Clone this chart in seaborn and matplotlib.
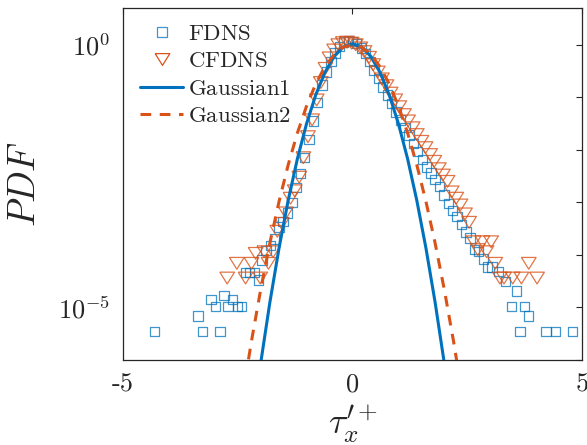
import numpy as np
import pandas as pd
import seaborn as sns
import matplotlib.pyplot as plt
from matplotlib.lines import Line2D

# FDNS pdf (squares)
fdns_x = [-4.31, -3.37, -3.27, -3.08, -2.98, -2.89, -2.80, -2.71, -2.61, -2.51,
          -2.42, -2.33, -2.24, -2.14, -2.05, -1.97, -1.88, -1.79, -1.70, -1.60,
          -1.51, -1.42, -1.32, -1.23, -1.13, -1.04, -0.95, -0.85, -0.76, -0.66,
          -0.57, -0.47, -0.38, -0.28, -0.19, -0.09, 0.00, 0.09, 0.19, 0.28,
          0.38, 0.47, 0.57, 0.66, 0.76, 0.85, 0.95, 1.04, 1.14, 1.23,
          1.33, 1.42, 1.52, 1.61, 1.71, 1.80, 1.90, 1.99, 2.09, 2.18,
          2.28, 2.37, 2.47, 2.56, 2.66, 2.75, 2.85, 2.94, 3.04, 3.18,
          3.33, 3.46, 3.57, 3.65, 3.75, 3.84, 4.22, 4.42, 4.79]
fdns_pdf = [3.47e-6, 6.92e-6, 3.47e-6, 1.41e-5, 1.05e-5, 3.47e-6, 1.70e-5, 1.05e-5, 1.41e-5, 1.05e-5,
            1.05e-5, 4.68e-5, 4.68e-5, 4.68e-5, 3.31e-5, 7.94e-5, 1.20e-4, 1.51e-4, 2.00e-4, 3.39e-4,
            4.37e-4, 6.31e-4, 1.00e-3, 1.91e-3, 3.55e-3, 7.08e-3, 0.0158, 0.0355, 0.0794, 0.170,
            0.302, 0.479, 0.692, 0.933, 1.122, 1.202, 1.148, 1.047, 0.871, 0.676,
            0.479, 0.331, 0.229, 0.158, 0.110, 0.0759, 0.0525, 0.0372, 0.0263, 0.0191,
            0.0132, 9.33e-3, 6.61e-3, 4.68e-3, 3.63e-3, 2.75e-3, 2.00e-3, 1.38e-3, 9.55e-4, 7.08e-4,
            5.37e-4, 3.80e-4, 2.75e-4, 2.09e-4, 1.26e-4, 1.15e-4, 8.32e-5, 5.89e-5, 5.89e-5, 4.79e-5,
            3.09e-5, 1.05e-5, 2.04e-5, 3.47e-6, 1.05e-5, 6.92e-6, 3.47e-6, 3.47e-6, 3.47e-6]

# CFDNS pdf (triangles)
cfdns_x = [-2.73, -2.52, -2.33, -2.20, -2.11, -2.01, -1.92, -1.83, -1.73, -1.64,
           -1.54, -1.45, -1.35, -1.26, -1.16, -1.07, -0.97, -0.88, -0.78, -0.69,
           -0.59, -0.50, -0.40, -0.31, -0.21, -0.12, -0.02, 0.07, 0.17, 0.26,
           0.36, 0.45, 0.55, 0.64, 0.74, 0.83, 0.93, 1.02, 1.12, 1.21,
           1.31, 1.40, 1.50, 1.59, 1.69, 1.78, 1.88, 1.97, 2.07, 2.16,
           2.26, 2.35, 2.45, 2.54, 2.64, 2.73, 2.83, 2.92, 3.02, 3.11,
           3.21, 3.30, 3.49, 3.68, 3.84, 4.02]
cfdns_pdf = [3.63e-5, 6.92e-5, 3.63e-5, 6.92e-5, 1.07e-4, 3.63e-5, 1.15e-4, 6.92e-5, 1.15e-4, 2.82e-4,
             3.98e-4, 6.31e-4, 1.20e-3, 1.66e-3, 3.02e-3, 7.08e-3, 0.0178, 0.0372, 0.0891, 0.191,
             0.355, 0.562, 0.794, 1.000, 1.096, 1.122, 1.072, 1.000, 0.871, 0.741,
             0.575, 0.417, 0.302, 0.224, 0.166, 0.120, 0.0891, 0.0661, 0.0468, 0.0355,
             0.0263, 0.0195, 0.0145, 0.0110, 8.13e-3, 6.03e-3, 4.37e-3, 3.31e-3, 2.51e-3, 1.58e-3,
             1.20e-3, 8.91e-4, 6.03e-4, 4.17e-4, 1.78e-4, 1.26e-4, 1.78e-4, 1.15e-4, 1.78e-4, 6.92e-5,
             3.63e-5, 3.63e-5, 3.63e-5, 3.63e-5, 6.92e-5, 3.63e-5]

# Gaussian fits
gauss_x = [-2.4, -2.2, -2.0, -1.8, -1.6, -1.4, -1.2, -1.0, -0.8, -0.6, -0.4, -0.2, 0.0,
           0.2, 0.4, 0.6, 0.8, 1.0, 1.2, 1.4, 1.6, 1.8, 2.0, 2.2, 2.4]
gauss1_pdf = [2.0e-9, 4.6e-8, 8.7e-7, 1.25e-5, 1.35e-4, 1.10e-3, 6.78e-3, 0.0316, 0.1114, 0.297, 0.598, 0.910, 1.047,
              0.910, 0.598, 0.297, 0.1114, 0.0316, 6.78e-3, 1.10e-3, 1.35e-4, 1.25e-5, 8.7e-7, 4.6e-8, 2.0e-9]
gauss2_pdf = [1.95e-7, 2.30e-6, 2.19e-5, 1.68e-4, 1.04e-3, 5.21e-3, 0.0210, 0.0684, 0.180, 0.381, 0.651, 0.898, 1.0,
              0.898, 0.651, 0.381, 0.180, 0.0684, 0.0210, 5.21e-3, 1.04e-3, 1.68e-4, 2.19e-5, 2.30e-6, 1.95e-7]

blue = "#0072BD"
orange = "#D95319"

sns.set_style("white")
plt.rcParams['mathtext.fontset'] = 'cm'
plt.rcParams['font.family'] = ['cmr10', 'DejaVu Serif']
plt.rcParams['axes.unicode_minus'] = False

fig = plt.figure(figsize=(5.87, 4.45), dpi=100)
ax = fig.add_axes([0.2095, 0.191, 0.782, 0.791])

fdns = pd.DataFrame({'x': fdns_x, 'pdf': fdns_pdf})
cfdns = pd.DataFrame({'x': cfdns_x, 'pdf': cfdns_pdf})
g1 = pd.DataFrame({'x': gauss_x, 'pdf': gauss1_pdf})
g2 = pd.DataFrame({'x': gauss_x, 'pdf': gauss2_pdf})

tri = [(-1, 0.8), (1, 0.8), (0, -0.8), (-1, 0.8)]

sns.scatterplot(data=fdns, x='x', y='pdf', ax=ax, marker='s', s=46,
                facecolor='none', edgecolor=blue, linewidth=0.9, alpha=0.75, zorder=2)
sns.scatterplot(data=cfdns, x='x', y='pdf', ax=ax, marker=tri, s=112,
                facecolor='none', edgecolor=orange, linewidth=0.9, alpha=0.8, zorder=3)
sns.lineplot(data=g1, x='x', y='pdf', ax=ax, color=blue, linewidth=2.2, zorder=4)
sns.lineplot(data=g2, x='x', y='pdf', ax=ax, color=orange, linewidth=2.2,
             linestyle=(0, (3.5, 2.8)), zorder=4)

ax.set_yscale('log')
ax.set_xlim(-5, 5)
ax.set_ylim(1e-6, 5)

ax.set_xticks([-5, 0, 5])
ax.set_xticklabels(['-5', '0', '5'], fontsize=19)
ax.set_yticks([1e-6, 1e-5, 1e-4, 1e-3, 1e-2, 1e-1, 1e0])
ax.set_yticklabels(['', r'$10^{-5}$', '', '', '', '', r'$10^{0}$'], fontsize=19)
ax.minorticks_off()
ax.tick_params(direction='in', length=4, width=0.8, top=True, right=True,
               colors='#262626', pad=9)

for sp in ax.spines.values():
    sp.set_color('#262626')
    sp.set_linewidth(0.9)

ax.set_xlabel(r'$\tau_x^{\prime +}$', fontsize=26, labelpad=5)
ax.set_ylabel(r'$PDF$', fontsize=27, labelpad=12)

handles = [
    Line2D([], [], marker='s', ls='none', mfc='none', mec=blue, ms=6.8, mew=0.9, alpha=0.75),
    Line2D([], [], marker=tri, ls='none', mfc='none', mec=orange, ms=10.6, mew=0.9),
    Line2D([], [], color=blue, lw=2.2),
    Line2D([], [], color=orange, lw=2.2, ls=(0, (3.5, 2.8))),
]
labels = [r'$\mathrm{FDNS}$', r'$\mathrm{CFDNS}$', r'$\mathrm{Gaussian1}$', r'$\mathrm{Gaussian2}$']
ax.legend(handles, labels, loc='upper left', bbox_to_anchor=(0.037, 0.955),
          frameon=False, fontsize=16.5, handlelength=1.88, handletextpad=0.22,
          labelspacing=0.32, borderpad=0, borderaxespad=0)

fig.savefig('out.png', dpi=100)
